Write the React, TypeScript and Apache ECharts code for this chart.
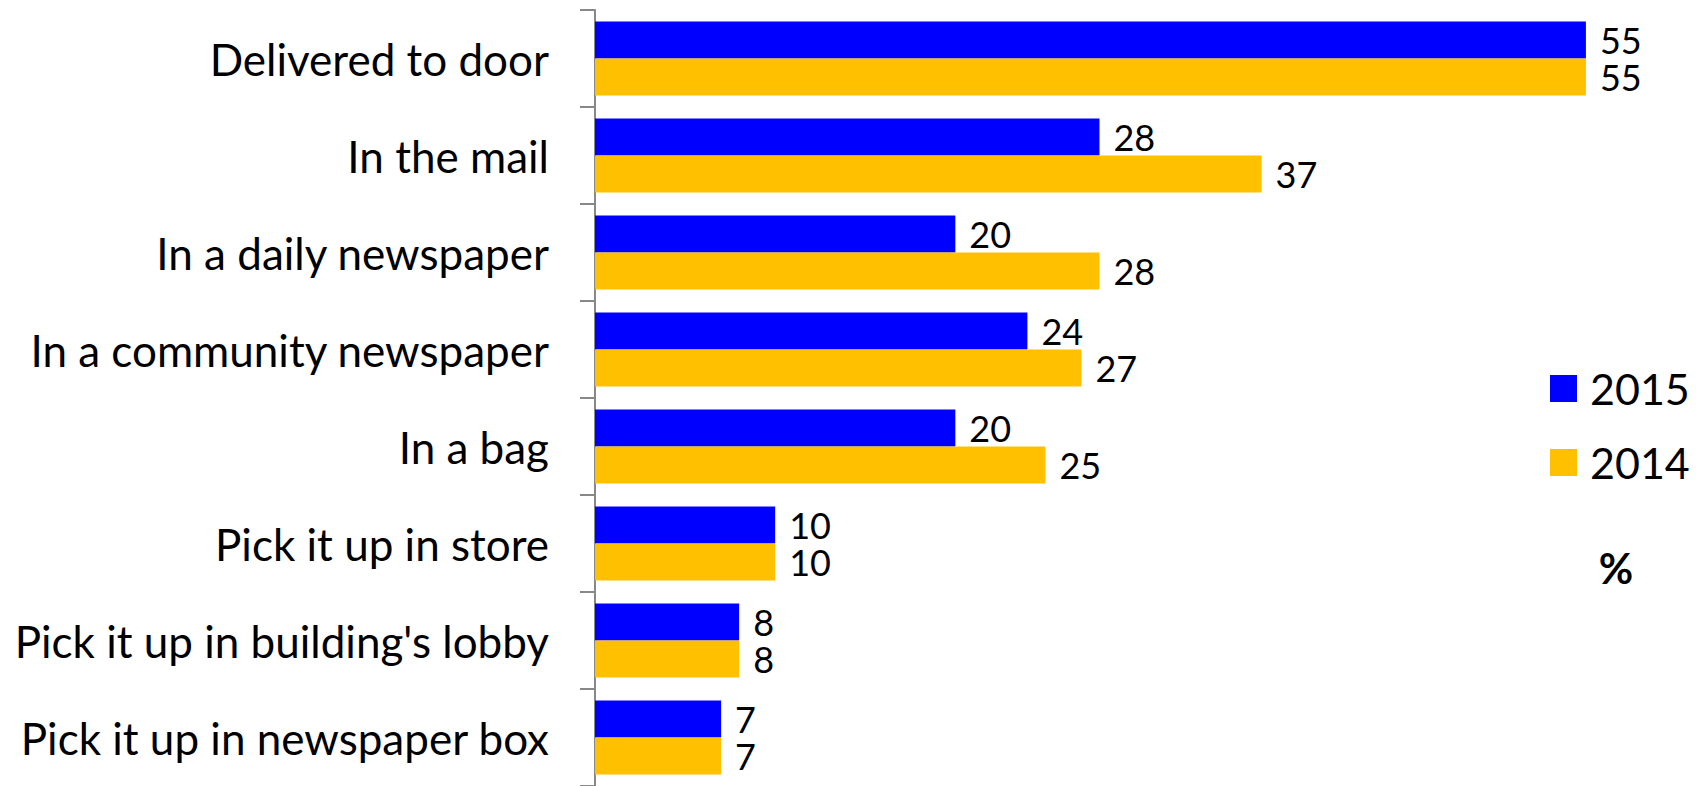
import React, { useEffect, useRef } from "react";
import * as echarts from "echarts";

const categories = [
  "Delivered to door",
  "In the mail",
  "In a daily newspaper",
  "In a community newspaper",
  "In a bag",
  "Pick it up in store",
  "Pick it up in building's lobby",
  "Pick it up in newspaper box",
];
const values2015 = [55, 28, 20, 24, 20, 10, 8, 7];
const values2014 = [55, 37, 28, 27, 25, 10, 8, 7];
const seriesNames = ["2015", "2014"];

const FONT = "Lato, 'Noto Sans', sans-serif";

export default function App() {
  const ref = useRef<HTMLDivElement>(null);
  useEffect(() => {
    if (!ref.current) return;
    const chart = echarts.init(ref.current, null, { renderer: "svg" });
    const labelStyle = {
      show: true,
      position: "right" as const,
      distance: 14,
      fontSize: 36,
      lineHeight: 34,
      color: "#000",
      fontFamily: FONT,
    };
    chart.setOption({
      animation: false,
      backgroundColor: "#fff",
      grid: { left: 595, top: 10, width: 1081, height: 780, containLabel: false },
      xAxis: {
        type: "value",
        min: 0,
        max: 60,
        show: false,
      },
      yAxis: {
        type: "category",
        inverse: true,
        data: categories,
        axisLine: { show: true, lineStyle: { color: "#888", width: 2 } },
        axisTick: { show: true, length: 15, lineStyle: { color: "#888", width: 2 } },
        axisLabel: { fontSize: 44, color: "#000", margin: 46, fontFamily: FONT },
        splitLine: { show: false },
      },
      legend: {
        orient: "vertical",
        left: 1545,
        top: 361,
        itemWidth: 27,
        itemHeight: 27,
        itemGap: 29,
        icon: "rect",
        data: seriesNames,
        textStyle: {
          fontSize: 43,
          lineHeight: 45,
          color: "#000",
          fontFamily: FONT,
          padding: [0, 0, 0, 8],
        },
      },
      graphic: [
        {
          type: "text",
          x: 1616,
          y: 568,
          style: {
            text: "%",
            fontSize: 42,
            fontWeight: "bold",
            fill: "#000",
            fontFamily: FONT,
            textAlign: "center",
            textVerticalAlign: "middle",
          },
        },
      ],
      series: [
        {
          name: seriesNames[0],
          type: "bar",
          data: values2015,
          itemStyle: { color: "#0000FF" },
          barGap: "0%",
          barCategoryGap: "23.5%",
          label: labelStyle,
        },
        {
          name: seriesNames[1],
          type: "bar",
          data: values2014,
          itemStyle: { color: "#FFC000" },
          barGap: "0%",
          barCategoryGap: "23.5%",
          label: labelStyle,
        },
      ],
    });
    return () => chart.dispose();
  }, []);
  return (
    <div
      ref={ref}
      style={{ position: "fixed", left: 0, top: 0, width: 1696, height: 786 }}
    />
  );
}
